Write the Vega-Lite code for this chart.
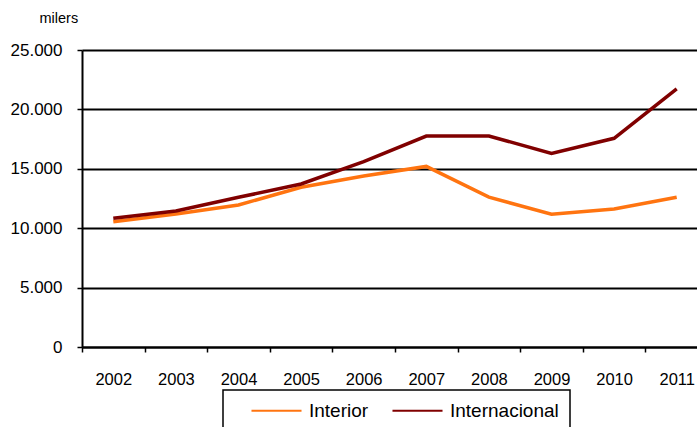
{
  "$schema": "https://vega.github.io/schema/vega-lite/v6.json",
  "autosize": {"type": "none"},
  "width": 626,
  "height": 297,
  "padding": {"left": 82, "top": 50, "right": 0, "bottom": 80},
  "background": "white",
  "config": {
    "font": "Liberation Sans",
    "view": {"stroke": null},
    "axis": {"labelFont": "Liberation Sans", "labelColor": "black"},
    "legend": {"strokeWidth": 1.5}
  },
  "data": {
    "values": [
      {"year": "2002", "serie": "Interior", "value": 10550},
      {"year": "2003", "serie": "Interior", "value": 11200},
      {"year": "2004", "serie": "Interior", "value": 11950},
      {"year": "2005", "serie": "Interior", "value": 13450},
      {"year": "2006", "serie": "Interior", "value": 14400},
      {"year": "2007", "serie": "Interior", "value": 15200},
      {"year": "2008", "serie": "Interior", "value": 12620},
      {"year": "2009", "serie": "Interior", "value": 11170},
      {"year": "2010", "serie": "Interior", "value": 11620},
      {"year": "2011", "serie": "Interior", "value": 12600},
      {"year": "2002", "serie": "Internacional", "value": 10830},
      {"year": "2003", "serie": "Internacional", "value": 11450},
      {"year": "2004", "serie": "Internacional", "value": 12600},
      {"year": "2005", "serie": "Internacional", "value": 13720},
      {"year": "2006", "serie": "Internacional", "value": 15600},
      {"year": "2007", "serie": "Internacional", "value": 17760},
      {"year": "2008", "serie": "Internacional", "value": 17760},
      {"year": "2009", "serie": "Internacional", "value": 16300},
      {"year": "2010", "serie": "Internacional", "value": 17570},
      {"year": "2011", "serie": "Internacional", "value": 21720}
    ]
  },
  "mark": {"type": "line", "strokeWidth": 3.5},
  "encoding": {
    "x": {
      "field": "year",
      "type": "ordinal",
      "scale": {"type": "band", "paddingInner": 0, "paddingOuter": 0},
      "axis": {
        "title": null,
        "labelAngle": 0,
        "tickBand": "extent",
        "domainColor": "black",
        "domainWidth": 2,
        "tickColor": "black",
        "tickWidth": 1.5,
        "tickSize": 5,
        "labelPadding": 19,
        "labelFontSize": 16.5
      }
    },
    "y": {
      "field": "value",
      "type": "quantitative",
      "scale": {"domain": [0, 25000], "nice": false},
      "axis": {
        "values": [0, 5000, 10000, 15000, 20000, 25000],
        "labelExpr": "replace(format(datum.value, ','), ',', '.')",
        "title": "milers",
        "titleAngle": 0,
        "titleX": -43,
        "titleY": -32,
        "titleAlign": "left",
        "titleBaseline": "middle",
        "titleFontSize": 14.5,
        "titleFontWeight": "normal",
        "titleFont": "Liberation Sans",
        "titleColor": "black",
        "grid": true,
        "gridColor": "black",
        "gridWidth": 2,
        "gridOpacity": 1,
        "domainColor": "black",
        "domainWidth": 2,
        "tickColor": "black",
        "tickWidth": 1.5,
        "tickSize": 5,
        "labelPadding": 15,
        "labelFontSize": 17
      }
    },
    "color": {
      "field": "serie",
      "type": "nominal",
      "scale": {"domain": ["Interior", "Internacional"], "range": ["#FF7410", "#800000"]},
      "legend": {
        "title": null,
        "orient": "none",
        "direction": "horizontal",
        "legendX": 141,
        "legendY": 340,
        "strokeColor": "black",
        "padding": 11,
        "symbolType": "M1.33,0H9.67",
        "symbolSize": 144,
        "symbolStrokeWidth": 2,
        "labelFontSize": 19,
        "labelFont": "Liberation Sans",
        "labelColor": "black",
        "columnPadding": 6,
        "labelOffset": 56
      }
    }
  }
}
